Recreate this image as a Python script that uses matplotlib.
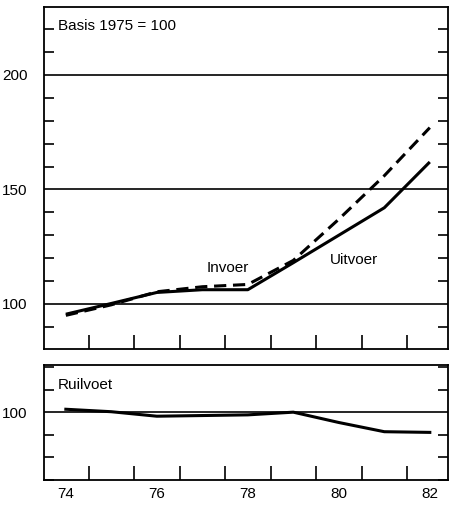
import matplotlib
matplotlib.use("Agg")
import matplotlib.pyplot as plt
from matplotlib.ticker import MultipleLocator, FixedLocator

plt.rcParams['font.family'] = ['Liberation Sans', 'DejaVu Sans']

years = [74, 75, 76, 77, 78, 79, 80, 81, 82]
uitvoer = [95.5, 100.2, 105.0, 106.2, 106.2, 118.0, 130.0, 142.0, 162.0]
invoer = [95.0, 99.6, 105.3, 107.5, 108.5, 119.0, 137.0, 156.0, 177.0]
ruilvoet = [101.3, 100.2, 98.2, 98.5, 98.8, 100.0, 95.4, 91.3, 91.0]
x_labels = [74, 76, 78, 80, 82]
top_labels = [100, 150, 200]
bottom_labels = [100]

FS = 11

fig = plt.figure(figsize=(4.52, 5.07), dpi=100)
ax1 = fig.add_axes([44/452, 1-349/507, 404/452, 342/507])
ax2 = fig.add_axes([44/452, 1-480/507, 404/452, 115/507])

for ax in (ax1, ax2):
    ax.set_xlim(73.52, 82.4)
    for s in ax.spines.values():
        s.set_linewidth(1.3)
    ax.xaxis.set_major_locator(FixedLocator(x_labels))
    ax.xaxis.set_minor_locator(FixedLocator([y + 0.5 for y in range(74, 82)]))
    ax.tick_params(axis='x', which='major', length=0, pad=5, labelsize=FS)
    ax.tick_params(axis='x', which='minor', direction='in', length=10, width=1.2)
    ax.yaxis.set_minor_locator(MultipleLocator(10))
    ax.tick_params(axis='y', which='both', direction='in', left=True, right=True,
                   length=7, width=1.2, labelsize=FS)
    ax.tick_params(axis='y', which='major', length=0, pad=12)

# Top panel
ax1.set_ylim(80.3, 229.7)
ax1.yaxis.set_major_locator(FixedLocator(top_labels))
for v in top_labels:
    ax1.axhline(v, color='black', lw=1.2, zorder=1)
ax1.plot(years, uitvoer, color='black', lw=2.2, solid_capstyle='butt', zorder=3)
ax1.plot(years, invoer, color='black', lw=2.2, linestyle=(0, (4, 2.2)), zorder=3)
ax1.tick_params(axis='x', labelbottom=False)
ax1.text(58/452, 1-26/507, 'Basis 1975 = 100', transform=fig.transFigure,
         fontsize=FS, va='center', ha='left')
ax1.text(207/452, 1-268/507, 'Invoer', transform=fig.transFigure,
         fontsize=FS, va='center', ha='left')
ax1.text(330/452, 1-260/507, 'Uitvoer', transform=fig.transFigure,
         fontsize=FS, va='center', ha='left')

# Bottom panel
ax2.set_ylim(69.8, 121)
ax2.yaxis.set_major_locator(FixedLocator(bottom_labels))
for v in bottom_labels:
    ax2.axhline(v, color='black', lw=1.2, zorder=1)
ax2.plot(years, ruilvoet, color='black', lw=2.2, zorder=3)
ax2.text(58/452, 1-385/507, 'Ruilvoet', transform=fig.transFigure,
         fontsize=FS, va='center', ha='left')

fig.savefig('out.png', dpi=100)
